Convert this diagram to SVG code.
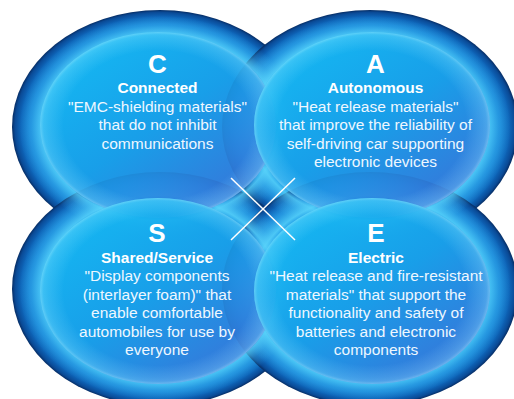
<svg xmlns="http://www.w3.org/2000/svg" width="514" height="399" viewBox="0 0 514 399">
  <defs>
    <radialGradient id="outerG" cx="0.5" cy="0.5" r="0.5">
      <stop offset="0" stop-color="#1a9ae6"/>
      <stop offset="0.8" stop-color="#1c9ae6"/>
      <stop offset="0.88" stop-color="#1582d6"/>
      <stop offset="0.94" stop-color="#0e66ba"/>
      <stop offset="0.98" stop-color="#0a4a96"/>
      <stop offset="1" stop-color="#062d64"/>
    </radialGradient>
    <radialGradient id="haloG" cx="0.5" cy="0.5" r="0.5">
      <stop offset="0.76" stop-color="#5ad4fa" stop-opacity="0"/>
      <stop offset="0.8" stop-color="#5ad4fa" stop-opacity="0.75"/>
      <stop offset="0.87" stop-color="#4cc4f4" stop-opacity="0.3"/>
      <stop offset="0.95" stop-color="#4cc4f4" stop-opacity="0"/>
    </radialGradient>
    <linearGradient id="innerG" x1="0.15" y1="0.1" x2="0.85" y2="0.9">
      <stop offset="0" stop-color="#14baf3"/>
      <stop offset="0.5" stop-color="#189fe9"/>
      <stop offset="1" stop-color="#3a72d8"/>
    </linearGradient>
    <radialGradient id="rimG" cx="0.5" cy="0.5" r="0.5">
      <stop offset="0.8" stop-color="#8ae2ff" stop-opacity="0"/>
      <stop offset="0.97" stop-color="#8ae2ff" stop-opacity="0.3"/>
      <stop offset="1" stop-color="#a8ecff" stop-opacity="0.5"/>
    </radialGradient>
  </defs>
  <style>
    .outer { fill: url(#outerG); }
    .halo { fill: url(#haloG); }
    .inner { fill: url(#innerG); opacity: 0.9; }
    .rim { fill: url(#rimG); }
    text { font-family: "Liberation Sans", Arial, Helvetica, sans-serif; fill: #ffffff; text-anchor: middle; }
    .letter { font-size: 26px; font-weight: bold; }
    .title { font-size: 15.5px; font-weight: bold; }
    .body { font-size: 15.5px; fill: #eef7ff; }
    .cross { stroke: #ffffff; stroke-width: 1.5; fill: none; }
  </style>

  <g id="base">
    <ellipse class="outer" cx="160" cy="127" rx="148" ry="117"/>
    <ellipse class="outer" cx="370" cy="127" rx="148" ry="117"/>
    <ellipse class="outer" cx="160" cy="289" rx="148" ry="117"/>
    <ellipse class="outer" cx="370" cy="289" rx="148" ry="117"/>
    <ellipse class="halo" cx="160" cy="127" rx="148" ry="117"/>
    <ellipse class="halo" cx="370" cy="127" rx="148" ry="117"/>
    <ellipse class="halo" cx="160" cy="289" rx="148" ry="117"/>
    <ellipse class="halo" cx="370" cy="289" rx="148" ry="117"/>
  </g>

  <g id="node-C">
    <ellipse class="inner" cx="158" cy="125" rx="118" ry="93"/>
    <ellipse class="rim" cx="158" cy="125" rx="118" ry="93"/>
  </g>
  <g id="node-A">
    <ellipse class="inner" cx="372" cy="125" rx="118" ry="93"/>
    <ellipse class="rim" cx="372" cy="125" rx="118" ry="93"/>
  </g>
  <g id="node-S">
    <ellipse class="inner" cx="158" cy="291" rx="118" ry="93"/>
    <ellipse class="rim" cx="158" cy="291" rx="118" ry="93"/>
  </g>
  <g id="node-E">
    <ellipse class="inner" cx="372" cy="291" rx="118" ry="93"/>
    <ellipse class="rim" cx="372" cy="291" rx="118" ry="93"/>
  </g>

  <g id="connectors">
    <line class="cross" x1="231" y1="178" x2="295" y2="240"/>
    <line class="cross" x1="295" y1="178" x2="231" y2="240"/>
  </g>

  <g id="label-C">
    <text class="letter" x="157.5" y="73">C</text>
    <text class="title" x="157.5" y="92.5">Connected</text>
    <text class="body" x="157.5" y="111.5">"EMC-shielding materials"</text>
    <text class="body" x="157.5" y="130">that do not inhibit</text>
    <text class="body" x="157.5" y="148.5">communications</text>
  </g>
  <g id="label-A">
    <text class="letter" x="375.5" y="73">A</text>
    <text class="title" x="375.5" y="92.5">Autonomous</text>
    <text class="body" x="375.5" y="111.5">"Heat release materials"</text>
    <text class="body" x="375.5" y="130">that improve the reliability of</text>
    <text class="body" x="375.5" y="148.5">self-driving car supporting</text>
    <text class="body" x="375.5" y="167">electronic devices</text>
  </g>
  <g id="label-S">
    <text class="letter" x="157" y="242">S</text>
    <text class="title" x="157" y="263">Shared/Service</text>
    <text class="body" x="157" y="281">"Display components</text>
    <text class="body" x="157" y="299.5">(interlayer foam)" that</text>
    <text class="body" x="157" y="318">enable comfortable</text>
    <text class="body" x="157" y="336.5">automobiles for use by</text>
    <text class="body" x="157" y="355">everyone</text>
  </g>
  <g id="label-E">
    <text class="letter" x="376" y="242">E</text>
    <text class="title" x="376" y="263">Electric</text>
    <text class="body" x="376" y="281">"Heat release and fire-resistant</text>
    <text class="body" x="376" y="299.5">materials" that support the</text>
    <text class="body" x="376" y="318">functionality and safety of</text>
    <text class="body" x="376" y="336.5">batteries and electronic</text>
    <text class="body" x="376" y="355">components</text>
  </g>
</svg>
